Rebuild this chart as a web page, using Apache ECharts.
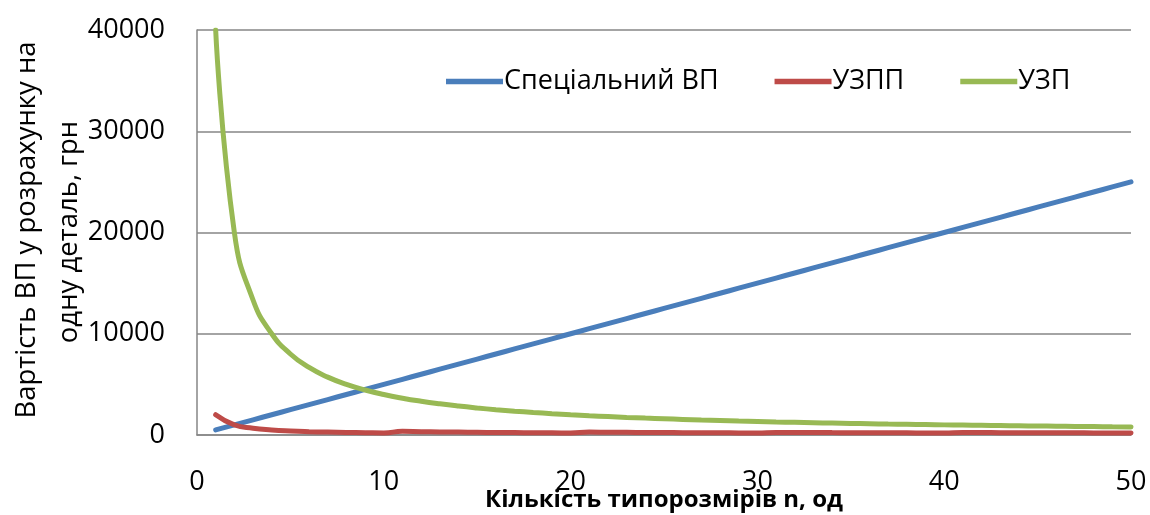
<!DOCTYPE html>
<html>
<head>
<meta charset="utf-8">
<script src="https://cdn.jsdelivr.net/npm/echarts@6/dist/echarts.min.js"></script>
<style>
html,body{margin:0;padding:0;background:#fff;}
#chart{width:1150px;height:515px;}
</style>
</head>
<body>
<div id="chart"></div>
<script>
const nValues = [1,2,3,4,5,6,7,8,9,10,11,12,13,14,15,16,17,18,19,20,21,22,23,24,25,26,27,28,29,30,31,32,33,34,35,36,37,38,39,40,41,42,43,44,45,46,47,48,49,50];
const specialVP = [500,1000,1500,2000,2500,3000,3500,4000,4500,5000,5500,6000,6500,7000,7500,8000,8500,9000,9500,10000,10500,11000,11500,12000,12500,13000,13500,14000,14500,15000,15500,16000,16500,17000,17500,18000,18500,19000,19500,20000,20500,21000,21500,22000,22500,23000,23500,24000,24500,25000];
const uzpp = [2000,1000,667,500,400,333,286,250,222,200,364,333,308,286,267,250,235,222,211,200,286,273,261,250,240,231,222,214,207,200,258,250,242,235,229,222,216,211,205,200,244,238,233,227,222,217,213,208,204,200];
const uzp = [40000,20000,13333,10000,8000,6667,5714,5000,4444,4000,3636,3333,3077,2857,2667,2500,2353,2222,2105,2000,1905,1818,1739,1667,1600,1538,1481,1429,1379,1333,1290,1250,1212,1176,1143,1111,1081,1053,1026,1000,976,952,930,909,889,870,851,833,816,800];
const seriesNames = ['Спеціальний ВП','УЗПП','УЗП'];
const xTitle = 'Кількість типорозмірів n, од';
const yTitleLines = ['Вартість ВП у розрахунку на','одну деталь, грн'];

const pair = (ys) => nValues.map((n,i)=>[n, ys[i]]);
const font = '"Open Sans", "Noto Sans", sans-serif';
const chart = echarts.init(document.getElementById('chart'), null, {renderer:'canvas'});
chart.setOption({
  animation:false,
  backgroundColor:'#ffffff',
  textStyle:{fontFamily:font,color:'#000'},
  grid:{left:197,right:19,top:30,bottom:80,containLabel:false,outerBoundsMode:'none'},
  legend:{
    left:441, top:63,
    itemWidth:57, itemHeight:14, itemGap:56,
    icon:'path://M0,0 L10,0 L10,1 L0,1 Z',
    lineStyle:{width:5},
    textStyle:{fontFamily:font,fontSize:27,color:'#000',padding:[0,0,0,-4]},
    data:seriesNames
  },
  graphic:[
    {type:'text',x:27,y:230,rotation:Math.PI/2,style:{text:yTitleLines[0],font:'27.5px "Open Sans", sans-serif',fill:'#000',align:'center',verticalAlign:'middle'}},
    {type:'text',x:69,y:232,rotation:Math.PI/2,style:{text:yTitleLines[1],font:'27.5px "Open Sans", sans-serif',fill:'#000',align:'center',verticalAlign:'middle'}},
    {type:'text',x:664,y:500,style:{text:xTitle,font:'bold 24px "Liberation Sans Narrow", "Open Sans", sans-serif',fill:'#000',align:'center',verticalAlign:'middle'}}
  ],
  xAxis:{
    type:'value', min:0, max:50, interval:10,
    axisLine:{show:true,lineStyle:{color:'#868686',width:1.5}},
    axisTick:{show:false},
    axisLabel:{fontFamily:font,fontSize:27,color:'#000',margin:34},
    splitLine:{show:false}
  },
  yAxis:{
    type:'value', min:0, max:40000, interval:10000,
    axisLine:{show:true,lineStyle:{color:'#868686',width:1.5}},
    axisTick:{show:false},
    axisLabel:{fontFamily:font,fontSize:27,color:'#000',margin:32,formatter:(v)=>String(v)},
    splitLine:{show:true,lineStyle:{color:'#868686',width:1.5}}
  },
  series:[
    {name:seriesNames[0],type:'line',data:pair(specialVP),symbol:'none',smooth:0.5,lineStyle:{color:'#4A7EBB',width:5,cap:'round'},itemStyle:{color:'#4A7EBB'}},
    {name:seriesNames[1],type:'line',data:pair(uzpp),symbol:'none',smooth:0.5,lineStyle:{color:'#BE4B48',width:5,cap:'round'},itemStyle:{color:'#BE4B48'}},
    {name:seriesNames[2],type:'line',data:pair(uzp),symbol:'none',smooth:0.5,lineStyle:{color:'#98B954',width:5,cap:'round'},itemStyle:{color:'#98B954'}}
  ]
});
</script>
</body>
</html>
